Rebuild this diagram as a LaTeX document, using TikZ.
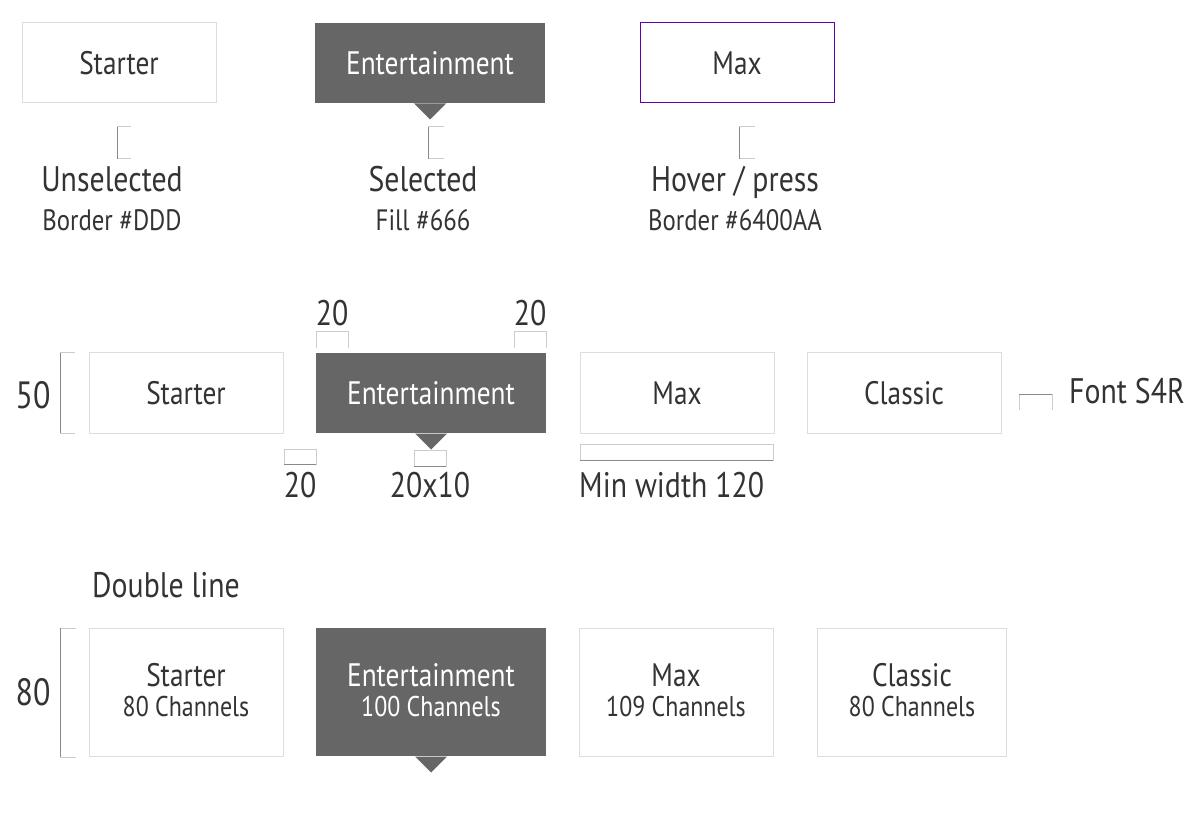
\documentclass[tikz,border=0pt]{standalone}
\usepackage{fontspec}
\setmainfont{PT Sans}[FakeStretch=0.84]
\definecolor{txt}{HTML}{333333}
\definecolor{bd}{HTML}{DDDDDD}
\definecolor{sel}{HTML}{666666}
\definecolor{hov}{HTML}{6400AA}
\definecolor{dk}{HTML}{8A8A8A}
\definecolor{lt}{HTML}{CCCCCC}
\tikzset{
  box/.style={draw=bd, line width=1pt, fill=white, inner sep=0pt, text=txt, font=\fontsize{32.5}{36}\selectfont, align=center},
  selbox/.style={box, draw=none, fill=sel, text=white},
  hovbox/.style={box, draw=hov},
  lbl/.style={anchor=base, inner sep=0pt, text=txt, font=\fontsize{35.5}{40}\selectfont},
  sublbl/.style={anchor=base, inner sep=0pt, text=txt, font=\fontsize{29.5}{33}\selectfont},
  dkline/.style={draw=dk, line width=1pt},
  ltline/.style={draw=lt, line width=1pt},
}
\begin{document}
\begin{tikzpicture}[x=1pt,y=-1pt]
\useasboundingbox (0,0) rectangle (1200,826);

% ---------- Row 1 ----------
\node[box, minimum width=194pt, minimum height=80pt] (s1) at (119,63) {Starter};
\node[selbox, minimum width=230pt, minimum height=80pt] (e1) at (430,63) {Entertainment};
\fill[sel] ([xshift=-16pt]e1.south) -- ([xshift=16pt]e1.south) -- ([yshift=-16pt]e1.south) -- cycle;
\node[hovbox, minimum width=194pt, minimum height=80pt] (m1) at (737,63) {Max};

\draw[ltline] (131,127) -- (117,127);
\draw[ltline] (117,159) -- (131,159);
\draw[dkline] (117,127) -- (117,159);
\draw[ltline] (444,127) -- (428,127);
\draw[ltline] (428,159) -- (444,159);
\draw[dkline] (428,127) -- (428,159);
\draw[ltline] (755,127) -- (739,127);
\draw[ltline] (739,159) -- (755,159);
\draw[dkline] (739,127) -- (739,159);

\node[lbl] (l1) at (112,192) {Unselected};
\node[lbl] (l2) at (423,192) {Selected};
\node[lbl] (l3) at (735,192) {Hover / press};
\node[sublbl] (d1) at (112,231) {Border \#DDD};
\node[sublbl] (d2) at (423,231) {Fill \#666};
\node[sublbl] (d3) at (735,231) {Border \#6400AA};

% ---------- Row 2 ----------
\node[box, minimum width=194pt, minimum height=80pt] (s2) at (186,393) {Starter};
\node[selbox, minimum width=230pt, minimum height=80pt] (e2) at (431,393) {Entertainment};
\fill[sel] ([xshift=-16pt]e2.south) -- ([xshift=16pt]e2.south) -- ([yshift=-16pt]e2.south) -- cycle;
\node[box, minimum width=194pt, minimum height=80pt] (m2) at (677,393) {Max};
\node[box, minimum width=194pt, minimum height=80pt] (c2) at (904,393) {Classic};

% 50 bracket
\draw[ltline] (75,353) -- (60,353);
\draw[ltline] (60,433) -- (75,433);
\draw[dkline] (60,353) -- (60,433);
\node[lbl, font=\fontsize{38}{42}\selectfont] (n50) at (33,408) {50};

% top 20 brackets
\draw[ltline] (316,348) -- (316,332) -- (348,332) -- (348,348);
\draw[ltline] (514,348) -- (514,332) -- (546,332) -- (546,348);
\node[lbl] (t20a) at (332,326) {20};
\node[lbl] (t20b) at (530,326) {20};

% bottom brackets
\draw[ltline] (284,449) rectangle (316,464);
\draw[dkline] (284,464) -- (316,464);
\node[lbl] (b20) at (300,497) {20};
\draw[ltline] (414,450) rectangle (446,466);
\draw[dkline] (414,466) -- (446,466);
\node[lbl] (b2010) at (430,497) {20x10};
\draw[ltline] (580,444) rectangle (773,460);
\draw[dkline] (580,460) -- (773,460);
\node[lbl, anchor=base west] (mw) at (579,497) {Min width 120};

% font bracket
\draw[ltline] (1019,410) -- (1019,394);
\draw[ltline] (1052,394) -- (1052,410);
\draw[dkline] (1019,394) -- (1052,394);
\node[lbl, anchor=base west] (fs) at (1069,403) {Font S4R};

% ---------- Row 3 ----------
\node[lbl, anchor=base west] (dl) at (92,597) {Double line};
\draw[ltline] (76,628) -- (60,628);
\draw[ltline] (60,757) -- (76,757);
\draw[dkline] (60,628) -- (60,757);
\node[lbl, font=\fontsize{38}{42}\selectfont] (n80) at (33,705) {80};

\node[box, minimum width=194pt, minimum height=128pt] (s3) at (186,692) {};
\node[selbox, minimum width=230pt, minimum height=128pt] (e3) at (431,692) {};
\fill[sel] ([xshift=-16pt]e3.south) -- ([xshift=16pt]e3.south) -- ([yshift=-16pt]e3.south) -- cycle;
\node[box, minimum width=194pt, minimum height=128pt] (m3) at (676,692) {};
\node[box, minimum width=189pt, minimum height=128pt] (c3) at (912,692) {};

\tikzset{l3a/.style={anchor=base, inner sep=0pt, font=\fontsize{32.5}{36}\selectfont},
         l3b/.style={anchor=base, inner sep=0pt, font=\fontsize{28.5}{32}\selectfont}}
\node[l3a, text=txt] (s3a) at (186,686) {Starter};
\node[l3b, text=txt] (s3b) at (186,716) {80 Channels};
\node[l3a, text=white] (e3a) at (431,686) {Entertainment};
\node[l3b, text=white] (e3b) at (431,716) {100 Channels};
\node[l3a, text=txt] (m3a) at (676,686) {Max};
\node[l3b, text=txt] (m3b) at (676,716) {109 Channels};
\node[l3a, text=txt] (c3a) at (912,686) {Classic};
\node[l3b, text=txt] (c3b) at (912,716) {80 Channels};
\end{tikzpicture}
\end{document}
